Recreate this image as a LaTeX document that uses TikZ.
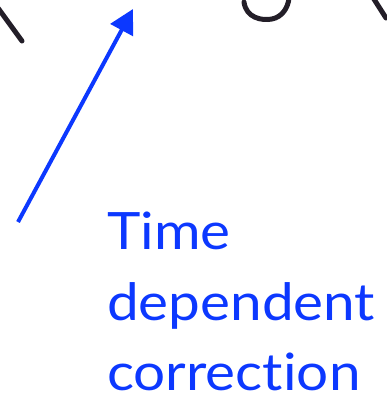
\documentclass[tikz,border=0pt]{standalone}
\usepackage{fontspec}
\setmainfont{Lato}[Ligatures={NoCommon,NoRare},FakeStretch=1.1]
\usetikzlibrary{arrows.meta}
\definecolor{lblue}{RGB}{12,56,255}
\definecolor{glyph}{RGB}{35,30,40}
\tikzset{
  pointer/.style={draw=lblue, line width=4pt, -{Triangle[length=24pt,width=25pt]}},
  label/.style={text=lblue, font=\fontsize{51.5}{70}\selectfont, inner sep=0pt, anchor=base west},
  fragment/.style={draw=glyph, line width=5pt, line cap=round}
}
\begin{document}
\begin{tikzpicture}[x=1pt,y=-1pt]
\useasboundingbox (0,0) rectangle (386,399);
% cropped glyph fragments at the top
\draw[fragment] (-2,8) -- (22,41);
\draw[fragment] (244,2) .. controls (246,18) and (262,21) .. (272,19) .. controls (282,17) and (288,8) .. (289,-2);
\draw[fragment] (372,-4) -- (386,18);
% arrow and label
\coordinate (start) at (18,222);
\coordinate (tip) at (133,9);
\draw[pointer] (start) -- (tip);
\node[label] (l1) at (107,249) {Time};
\node[label] (l2) at (107,320) {dependent};
\node[label] (l3) at (107,390) {correction};
\end{tikzpicture}
\end{document}
